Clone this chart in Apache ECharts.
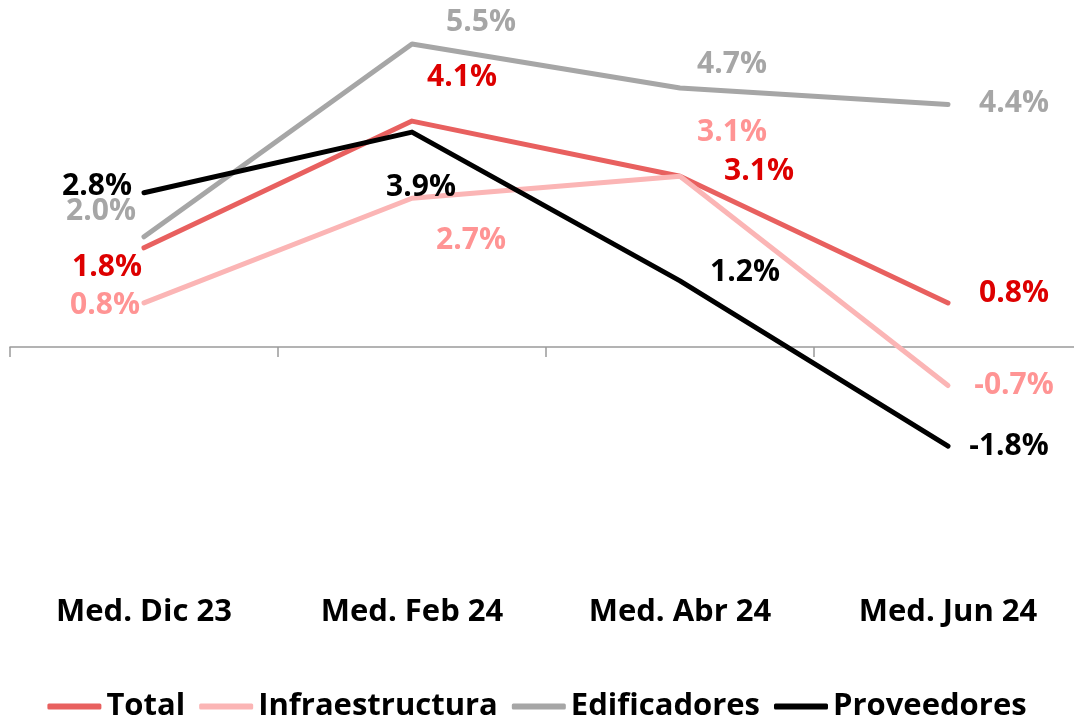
<!DOCTYPE html>
<html>
<head>
<meta charset="utf-8">
<script src="https://cdn.jsdelivr.net/npm/echarts@6/dist/echarts.min.js"></script>
<style>
  html, body { margin: 0; padding: 0; background: #fff; }
  #chart { width: 1074px; height: 720px; }
</style>
</head>
<body>
<div id="chart"></div>
<script>
// data
const categories = ['Med. Dic 23', 'Med. Feb 24', 'Med. Abr 24', 'Med. Jun 24']
const total = [1.8, 4.1, 3.1, 0.8]
const infraestructura = [0.8, 2.7, 3.1, -0.7]
const edificadores = [2.0, 5.5, 4.7, 4.4]
const proveedores = [2.8, 3.9, 1.2, -1.8]

const FONT = 'Open Sans'

// label offsets per point (dx, dy from the point)
const makeSeries = (name, values, lineColor, labelColor, offsets) => ({
  name: name,
  type: 'line',
  data: values.map((v, i) => ({
    value: v,
    label: { offset: offsets[i] }
  })),
  color: lineColor,
  symbol: 'circle',
  symbolSize: 0,
  showSymbol: true,
  lineStyle: { width: 5, color: lineColor, cap: 'round', join: 'round' },
  label: {
    show: true,
    position: 'inside',
    formatter: p => p.value.toFixed(1) + '%',
    color: labelColor,
    fontFamily: FONT,
    fontWeight: 'bold',
    fontSize: 30
  },
  emphasis: { disabled: true },
  animation: false
})

const chart = echarts.init(document.getElementById('chart'))

const option = {
  backgroundColor: '#fff',
  grid: { left: 10, width: 1072, top: 16.4, height: 551, outerBoundsMode: 'none', containLabel: false },
  legend: {
    left: 'center',
    top: 686,
    icon: 'roundRect',
    itemWidth: 54,
    itemHeight: 6,
    itemGap: 14,
    textStyle: { fontFamily: FONT, fontWeight: 'bold', fontSize: 31, color: '#000' },
    data: ['Total', 'Infraestructura', 'Edificadores', 'Proveedores']
  },
  xAxis: {
    type: 'category',
    data: categories,
    boundaryGap: true,
    axisLine: { onZero: true, lineStyle: { color: '#9a9a9a', width: 1.5 } },
    axisTick: { show: true, length: 10, lineStyle: { color: '#9a9a9a', width: 1.5 } },
    axisLabel: {
      margin: 25,
      fontFamily: FONT,
      fontWeight: 'bold',
      fontSize: 31,
      lineHeight: 40,
      color: '#000'
    },
    splitLine: { show: false }
  },
  yAxis: {
    type: 'value',
    min: -4,
    max: 6,
    show: false
  },
  series: [
    makeSeries('Total', total, '#e8605f', '#dd0000',
      [[-37, 20], [50, -44], [79, -5], [66, -9]]),
    makeSeries('Infraestructura', infraestructura, '#fbb5b5', '#ff9494',
      [[-39, 3], [59, 42], [52, -44], [66, 0]]),
    makeSeries('Edificadores', edificadores, '#a6a6a6', '#a6a6a6',
      [[-43, -25], [69, -21], [52, -24], [66, -1]]),
    makeSeries('Proveedores', proveedores, '#000000', '#000000',
      [[-47, -6], [9, 55], [65, -8], [61, 0]])
  ]
}

chart.setOption(option)
</script>
</body>
</html>
